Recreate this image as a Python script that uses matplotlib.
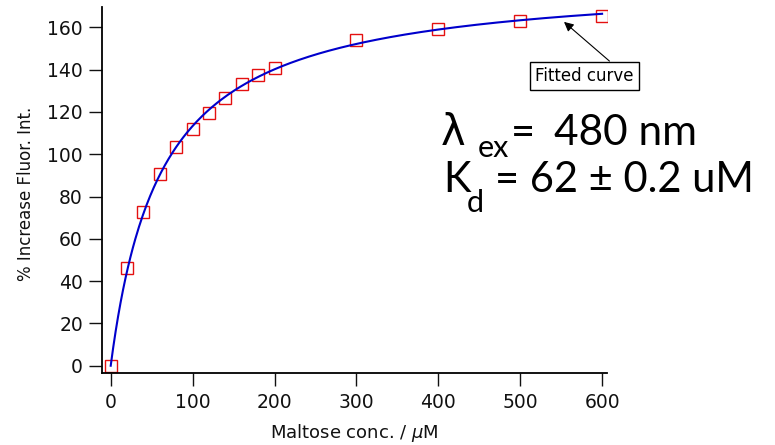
from matplotlib import pyplot as plt
import numpy as np

# maltose titration data
maltose = [0, 20, 40, 60, 80, 100, 120, 140, 160, 180, 200, 300, 400, 500, 600]
increase = [0, 46, 72.5, 90.5, 103.3, 112, 119.3, 126.5, 133.3, 137.4, 140.8, 153.8, 159.4, 162.8, 165.4]
kd = 62.0  # from the annotation

xTicks = [0, 100, 200, 300, 400, 500, 600]
yTicks = [0, 20, 40, 60, 80, 100, 120, 140, 160]

W, H = 775, 445


def px(x, y):
    # figure pixel (from top-left) to figure fraction
    return x / W, 1 - y / H


fig = plt.figure(figsize=(W / 100, H / 100), dpi=100)
left, right, top, bottom = 101.7, 607, 7.3, 372.7
ax = fig.add_axes([left / W, 1 - bottom / H, (right - left) / W, (bottom - top) / H])

# single-site binding fit with Kd fixed, Bmax by least squares
x = np.array(maltose, dtype=float)
y = np.array(increase, dtype=float)
f = x / (kd + x)
bmax = np.sum(y * f) / np.sum(f * f)
xFit = np.linspace(0, 600, 400)
yFit = bmax * xFit / (kd + xFit)

ax.plot(maltose, increase, linestyle="none", marker="s", markersize=9,
        markerfacecolor="none", markeredgecolor="#e41010", markeredgewidth=1.0, zorder=2)
ax.plot(xFit, yFit, color="#0000cc", linewidth=1.5, zorder=3)

ax.set_xlim(-11, 606)
ax.set_ylim(-3.3, 169.5)
ax.set_xticks(xTicks)
ax.set_yticks(yTicks)
for s in ["top", "right"]:
    ax.spines[s].set_visible(False)
for s in ["left", "bottom"]:
    ax.spines[s].set_linewidth(1.3)
ax.tick_params(direction="out", length=9.5, width=1.0, pad=4, labelsize=13.5, colors="#111111")
ax.tick_params(axis="x", pad=5)

ax.set_xlabel(r"Maltose conc. / $\mu$M", fontsize=13, color="#111111")
ax.xaxis.set_label_coords(0.5, -0.135)
ax.set_ylabel("% Increase Fluor. Int.", fontsize=12, color="#111111")
ax.yaxis.set_label_coords(-0.132, 0.49)

ax.annotate("Fitted curve", xy=(553.5, 162.6), xytext=(578.3, 137.2), ha="center", va="center",
            fontsize=12, annotation_clip=False,
            bbox=dict(boxstyle="square,pad=0.3", fc="white", ec="black", lw=1.0),
            arrowprops=dict(arrowstyle="-|>", color="black", lw=0.8, mutation_scale=14,
                            relpos=(0.82, 1.0), shrinkA=0, shrinkB=0))

big = ["Lato", "DejaVu Sans"]
fig.text(*px(441, 145), "λ", fontsize=30, family=["DejaVu Sans"], va="baseline")
fig.text(*px(478, 157), "ex", fontsize=22, family=big, va="baseline")
fig.text(*px(511, 145), "=", fontsize=30, family=big, va="baseline")
fig.text(*px(554, 145), "480 nm", fontsize=30.5, family=big, va="baseline")
fig.text(*px(443, 192), "K", fontsize=30, family=big, va="baseline")
fig.text(*px(467, 212), "d", fontsize=22, family=big, va="baseline")
fig.text(*px(495, 192), "= 62 ± 0.2 uM", fontsize=30, family=big, va="baseline")

plt.savefig("out.png", dpi=100)
